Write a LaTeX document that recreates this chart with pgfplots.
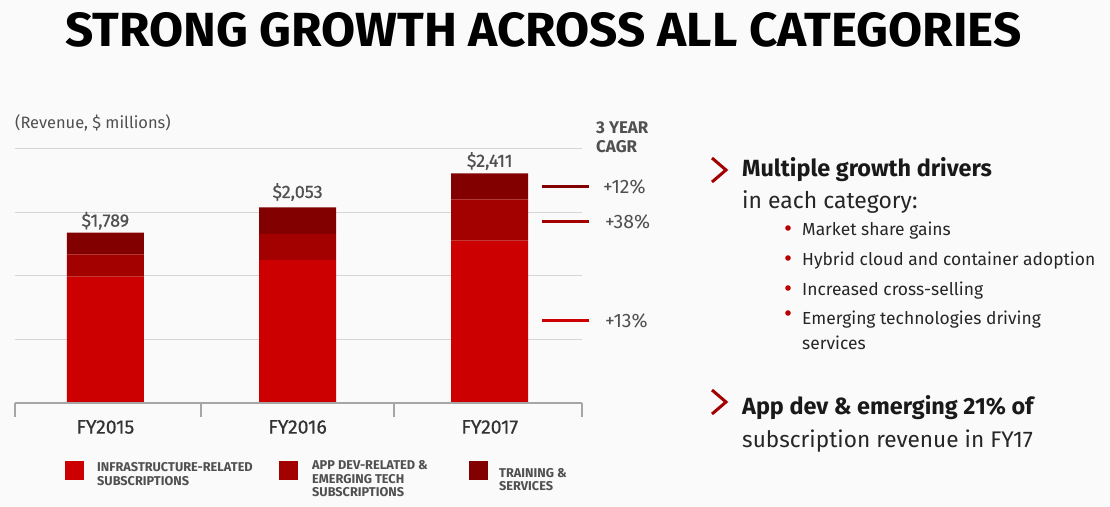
\documentclass[border=0pt]{standalone}
\usepackage{pgfplots}
\pgfplotsset{compat=1.18}
\usepackage{fontspec}
\setmainfont{Fira Sans}
\newfontfamily\medfont[FakeBold=0.6]{Fira Sans}
\definecolor{bg}{RGB}{250,250,250}
\definecolor{cA}{HTML}{CC0000}
\definecolor{cB}{HTML}{A30000}
\definecolor{cC}{HTML}{820000}
\definecolor{txt}{HTML}{505050}
\definecolor{gridc}{HTML}{D6D6D6}
\definecolor{chev}{HTML}{A30000}
\begin{document}
\begin{tikzpicture}
\useasboundingbox (0,0) rectangle (1110bp,-507bp);
\fill[bg] (0,0) rectangle (1110bp,-507bp);
\begin{scope}[shift={(15bp,-403bp)}]
\begin{axis}[
  at={(0,0)}, anchor=south west,
  width=567bp, height=254.5bp, scale only axis,
  ybar stacked, bar width=77bp,
  xmin=-0.47, xmax=2.48, ymin=0, ymax=2672,
  xtick={0,1,2}, xticklabels={FY2015,FY2016,FY2017},
  x tick label style={font=\fontsize{19.5}{21}\medfont, text=black!80, anchor=center, yshift=-24bp},
  ytick={668,1336,2004,2672}, yticklabels={},
  ymajorgrids, grid style={gridc, line width=0.9bp},
  axis line style={draw=none}, tick style={draw=none},
  clip=false,
]
\addplot[fill=cA, draw=none] coordinates {(0,1326) (1,1502) (2,1704)};
\addplot[fill=cB, draw=none] coordinates {(0,235) (1,273) (2,435)};
\addplot[fill=cC, draw=none] coordinates {(0,228) (1,278) (2,272)};
\node[anchor=base, text=txt, font=\fontsize{18}{20}\medfont, inner sep=0] at (axis cs:0,1789) [yshift=6bp] {\$1,789};
\node[anchor=base, text=txt, font=\fontsize{18}{20}\medfont, inner sep=0] at (axis cs:1,2053) [yshift=9.5bp] {\$2,053};
\node[anchor=base, text=txt, font=\fontsize{18}{20}\medfont, inner sep=0] at (axis cs:2,2411) [yshift=6.5bp] {\$2,411};
\end{axis}
\end{scope}
\begin{scope}[x=1bp,y=1bp]
% title
\node[anchor=base west, inner sep=0, text=black] at (65,-47) {\resizebox{956bp}{34bp}{\bfseries STRONG GROWTH ACROSS ALL CATEGORIES}};
\node[anchor=base west, inner sep=0, text=txt, font=\fontsize{16.5}{18}\selectfont] at (15,-128) {(Revenue, \$ millions)};
\node[anchor=base west, inner sep=0, text=txt, font=\fontsize{17}{19}\selectfont\bfseries] at (596,-133) {3 YEAR};
\node[anchor=base west, inner sep=0, text=txt, font=\fontsize{17}{19}\selectfont\bfseries] at (596,-152) {CAGR};
% baseline and separators
\draw[black!35, line width=1.5bp] (15,-403) -- (582,-403);
\foreach \xx in {15,201,394,582} {\draw[black!35, line width=1.5bp] (\xx,-403) -- (\xx,-417);}
% CAGR markers
\draw[cC, line width=2.8bp] (542,-186.5) -- (589,-186.5);
\draw[cB, line width=2.8bp] (542,-221.5) -- (589,-221.5);
\draw[cA, line width=2.8bp] (542,-320.5) -- (589,-320.5);
\node[anchor=west, inner sep=0, text=txt, font=\fontsize{19.5}{21}\selectfont] at (603,-187) {+12\%};
\node[anchor=west, inner sep=0, text=txt, font=\fontsize{19.5}{21}\selectfont] at (605,-222) {+38\%};
\node[anchor=west, inner sep=0, text=txt, font=\fontsize{19.5}{21}\selectfont] at (605,-321) {+13\%};
% legend
\fill[cA] (65,-461) rectangle (84,-480);
\fill[cB] (279,-461) rectangle (298,-480);
\fill[cC] (469,-461) rectangle (488,-480);
\tikzset{lg/.style={anchor=base west, inner sep=0, text=txt, font=\fontsize{12.8}{14}\selectfont\bfseries}}
\node[lg] at (97,-471.5) {INFRASTRUCTURE-RELATED};
\node[lg] at (97,-485) {SUBSCRIPTIONS};
\node[lg] at (312,-469.5) {APP DEV-RELATED \&};
\node[lg] at (312,-483) {EMERGING TECH};
\node[lg] at (312,-496.5) {SUBSCRIPTIONS};
\node[lg] at (499,-477) {TRAINING \&};
\node[lg] at (499,-490) {SERVICES};
% right panel
\draw[chev, line width=3bp] (712,-158) -- (726,-170) -- (712,-182);
\draw[chev, line width=3bp] (712,-390) -- (726,-402) -- (712,-414);
\node[anchor=base west, inner sep=0, text=black!90, font=\fontsize{23.5}{26}\selectfont\bfseries] at (742,-176) {Multiple growth drivers};
\node[anchor=base west, inner sep=0, text=black!85, font=\fontsize{23}{26}\selectfont] at (742,-208) {in each category:};
\foreach \yy in {228,258,288,313} {\fill[cA!90!black] (788,-\yy) circle (2.8bp);}
\tikzset{bl/.style={anchor=base west, inner sep=0, text=black!85, font=\fontsize{17.5}{20}\selectfont}}
\node[bl] at (802,-235) {Market share gains};
\node[bl] at (802,-265) {Hybrid cloud and container adoption};
\node[bl] at (802,-295) {Increased cross-selling};
\node[bl] at (802,-324) {Emerging technologies driving};
\node[bl] at (802,-349) {services};
\node[anchor=base west, inner sep=0, text=black!90, font=\fontsize{23.5}{26}\selectfont\bfseries] at (742,-414) {App dev \& emerging 21\% of};
\node[anchor=base west, inner sep=0, text=black!85, font=\fontsize{22.7}{26}\selectfont] at (742,-447) {subscription revenue in FY17};
\end{scope}
\end{tikzpicture}
\end{document}
